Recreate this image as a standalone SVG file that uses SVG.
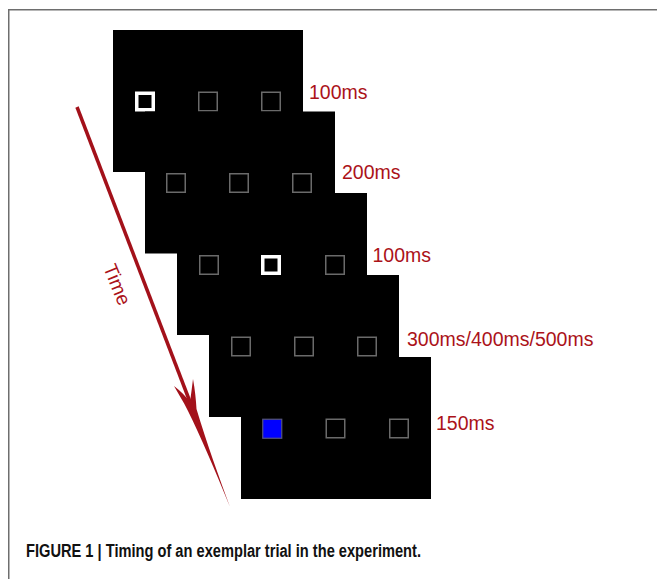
<svg xmlns="http://www.w3.org/2000/svg" width="657" height="579" viewBox="0 0 657 579">
  <style>
    .panel { fill: #000; }
    .sq { fill: none; stroke: #6a6a6a; stroke-width: 1.5; }
    .cue { fill: none; stroke: #fff; stroke-width: 3.5; }
    .target { fill: #0000ff; stroke: #55557a; stroke-width: 1.2; }
    .lbl { font-family: "Liberation Sans", Arial, sans-serif; font-size: 19.5px; fill: #ab1219; }
    .cap { font-family: "Liberation Sans", Arial, sans-serif; font-size: 18px; font-weight: bold; fill: #111; }
  </style>
  <rect width="657" height="579" fill="#fff"/>
  <g id="frame" fill="none" stroke="#6e6e6e" stroke-width="1.5">
    <line x1="8" y1="9.75" x2="657" y2="9.75"/>
    <line x1="8.75" y1="9" x2="8.75" y2="579"/>
  </g>

  <g id="panel1">
    <rect class="panel" x="113" y="30" width="190" height="142"/>
    <rect class="cue" x="136.75" y="93.25" width="16.5" height="16.5"/>
    <rect class="sq" x="198.75" y="92.25" width="18.5" height="18.5"/>
    <rect class="sq" x="261.75" y="92.25" width="18.5" height="18.5"/>
    <text class="lbl" x="309" y="99">100ms</text>
  </g>
  <g id="panel2">
    <rect class="panel" x="145" y="111.5" width="190" height="142"/>
    <rect class="sq" x="166.75" y="173.75" width="18.5" height="18.5"/>
    <rect class="sq" x="229.75" y="173.75" width="18.5" height="18.5"/>
    <rect class="sq" x="292.75" y="173.75" width="18.5" height="18.5"/>
    <text class="lbl" x="342" y="179">200ms</text>
  </g>
  <g id="panel3">
    <rect class="panel" x="177" y="193" width="190" height="142"/>
    <rect class="sq" x="199.75" y="255.75" width="18.5" height="18.5"/>
    <rect class="cue" x="262.75" y="256.75" width="16.5" height="16.5"/>
    <rect class="sq" x="325.75" y="255.75" width="18.5" height="18.5"/>
    <text class="lbl" x="372.5" y="262">100ms</text>
  </g>
  <g id="panel4">
    <rect class="panel" x="209" y="275" width="190" height="142"/>
    <rect class="sq" x="231.75" y="337.25" width="18.5" height="18.5"/>
    <rect class="sq" x="294.75" y="337.25" width="18.5" height="18.5"/>
    <rect class="sq" x="357.75" y="337.25" width="18.5" height="18.5"/>
    <text class="lbl" x="407" y="346">300ms/400ms/500ms</text>
  </g>
  <g id="panel5">
    <rect class="panel" x="241" y="357" width="190" height="142"/>
    <rect class="target" x="262.75" y="419.25" width="19" height="19"/>
    <rect class="sq" x="326.25" y="419.25" width="18.5" height="18.5"/>
    <rect class="sq" x="389.75" y="419.25" width="18.5" height="18.5"/>
    <text class="lbl" x="436" y="430">150ms</text>
  </g>

  <g id="connectors">
    <g id="time-arrow" fill="#a3111a" stroke="none">
      <line x1="77" y1="107" x2="190" y2="402" stroke="#a3111a" stroke-width="3.5"/>
      <path d="M230,507 C215,470 200,435 188,411 C183,401 178,393 174,386 C181,391 186,397 190,402 C191,395 192,387 193,379 C195,390 196,400 196.5,409 C206,441 220,480 230,507 Z"/>
    </g>
    <text id="time-label" class="lbl" font-size="21" x="111" y="287" text-anchor="middle" transform="rotate(68 111 287)">Time</text>
  </g>

  <text id="caption" class="cap" x="26" y="557" textLength="395" lengthAdjust="spacingAndGlyphs">FIGURE 1 | Timing of an exemplar trial in the experiment.</text>
</svg>
